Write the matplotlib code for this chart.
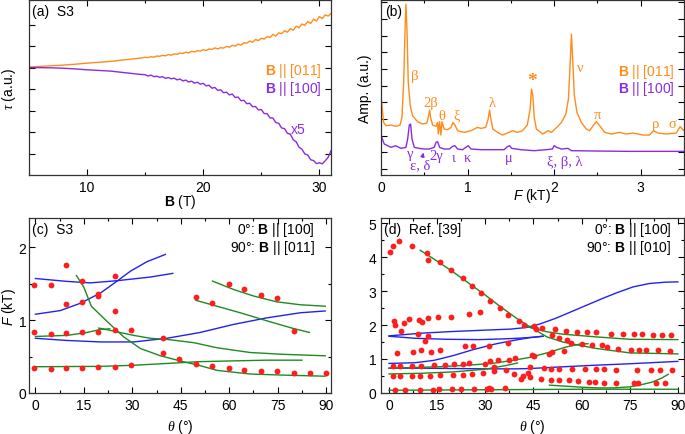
import matplotlib
matplotlib.use('Agg')
import matplotlib.pyplot as plt
from matplotlib.ticker import MultipleLocator

plt.rcParams['font.family'] = ['Liberation Sans', 'DejaVu Sans']
plt.rcParams['font.size'] = 10
plt.rcParams['mathtext.fontset'] = 'custom'
plt.rcParams['mathtext.rm'] = 'Liberation Sans'
plt.rcParams['mathtext.bf'] = 'Liberation Sans:bold'
plt.rcParams['mathtext.it'] = 'Liberation Serif:italic'
plt.rcParams['mathtext.sf'] = 'Liberation Sans:italic'

ORANGE = '#FF8C1A'
PURPLE = '#8A2BE2'
RED = '#FF1E1E'
BLUE = '#2222F0'
GREEN = '#1F8A1F'
SERIF = ['Liberation Serif', 'DejaVu Serif']

# ---------------- (a) torque vs field ----------------
torque_B = [5, 6, 7, 8, 9, 10, 11, 12, 13, 14, 14.5,
            15, 15.25, 15.5, 15.75, 16, 16.25, 16.5, 16.75, 17, 17.25, 17.5, 17.75,
            18, 18.25, 18.5, 18.75, 19, 19.25, 19.5, 19.75, 20, 20.25, 20.5, 20.75,
            21, 21.25, 21.5, 21.75, 22, 22.25, 22.5, 22.75, 23, 23.25, 23.5, 23.75,
            24, 24.25, 24.5, 24.75, 25, 25.25, 25.5, 25.75, 26, 26.25, 26.5, 26.75,
            27, 27.25, 27.5, 27.75, 28, 28.25, 28.5, 28.75, 29, 29.25, 29.5, 29.75,
            30, 30.25, 30.5, 30.75, 31]
torque_011 = [5.03, 5.06, 5.09, 5.12, 5.16, 5.21, 5.25, 5.29, 5.35, 5.41, 5.44,
              5.48, 5.47, 5.51, 5.49, 5.54, 5.53, 5.57, 5.55, 5.61, 5.58, 5.64, 5.62,
              5.68, 5.66, 5.72, 5.69, 5.76, 5.73, 5.79, 5.77, 5.84, 5.80, 5.87, 5.85,
              5.92, 5.87, 5.93, 5.91, 5.99, 5.95, 6.04, 6.00, 6.10, 6.05, 6.16, 6.14,
              6.24, 6.18, 6.31, 6.26, 6.37, 6.33, 6.45, 6.40, 6.55, 6.47, 6.62, 6.58,
              6.72, 6.65, 6.82, 6.74, 6.93, 6.86, 7.03, 6.97, 7.15, 7.06, 7.26, 7.17,
              7.38, 7.28, 7.46, 7.40, 7.52]
torque_100 = [5.00, 5.00, 4.99, 4.97, 4.94, 4.90, 4.87, 4.84, 4.78, 4.72, 4.69,
              4.67, 4.61, 4.65, 4.58, 4.60, 4.55, 4.58, 4.50, 4.54, 4.48, 4.51, 4.43,
              4.47, 4.38, 4.42, 4.33, 4.37, 4.28, 4.32, 4.23, 4.27, 4.15, 4.18, 4.04,
              4.08, 3.94, 3.97, 3.83, 3.86, 3.73, 3.77, 3.61, 3.63, 3.46, 3.48, 3.32,
              3.34, 3.18, 3.19, 3.03, 3.05, 2.86, 2.86, 2.66, 2.65, 2.44, 2.41, 2.19,
              2.16, 1.94, 1.90, 1.64, 1.55, 1.29, 1.20, 0.98, 0.93, 0.71, 0.67, 0.53,
              0.57, 0.52, 0.66, 0.82, 1.13]

# ---------------- (b) FFT spectra ----------------
fft_F_011 = [0.0, 0.03, 0.058, 0.115, 0.17, 0.22, 0.242, 0.262, 0.277, 0.288, 0.30, 0.315,
             0.338, 0.365, 0.423, 0.48, 0.53, 0.55, 0.562, 0.573, 0.596, 0.635, 0.654,
             0.662, 0.677, 0.692, 0.704, 0.73, 0.77, 0.81, 0.83, 0.854, 0.885, 0.96,
             1.04, 1.115, 1.154, 1.21, 1.238, 1.254, 1.27, 1.292, 1.346, 1.404, 1.46,
             1.52, 1.577, 1.635, 1.69, 1.723, 1.738, 1.754, 1.77, 1.795, 1.87, 1.93,
             1.97, 2.03, 2.085, 2.135, 2.165, 2.184, 2.2, 2.214, 2.234, 2.264, 2.314,
             2.372, 2.41, 2.45, 2.488, 2.526, 2.584, 2.66, 2.756, 2.834, 2.91, 3.026,
             3.1, 3.148, 3.198, 3.294, 3.41, 3.456, 3.5]
fft_A_011 = [4.4, 2.8, 2.6, 2.64, 2.56, 2.64, 3.1, 5.2, 8.2, 9.9, 8.4, 5.2,
             3.8, 3.2, 2.84, 2.7, 2.76, 3.2, 3.54, 3.1, 2.64, 2.56, 2.8,
             2.1, 2.84, 2.04, 2.84, 2.4, 2.36, 2.5, 2.8, 2.64, 2.3, 2.2,
             2.3, 2.5, 2.44, 2.5, 3.0, 3.54, 3.0, 2.4, 2.2, 2.04, 2.16,
             2.3, 2.2, 2.3, 2.64, 3.6, 4.8, 4.4, 3.1, 2.4, 2.1, 2.3,
             2.2, 2.5, 2.8, 3.3, 4.2, 6.2, 8.1, 6.6, 4.4, 3.4, 2.8,
             2.4, 2.3, 2.6, 2.84, 2.6, 2.2, 2.1, 2.2, 2.1, 2.16, 2.04,
             2.04, 2.3, 2.16, 2.1, 2.16, 2.54, 2.3]
fft_F_100 = [0.0, 0.038, 0.077, 0.115, 0.17, 0.23, 0.288, 0.308, 0.327, 0.342, 0.358,
             0.385, 0.442, 0.5, 0.558, 0.615, 0.635, 0.654, 0.677, 0.73, 0.79, 0.827,
             0.854, 0.885, 0.942, 0.98, 1.008, 1.04, 1.154, 1.308, 1.423, 1.46, 1.485,
             1.51, 1.615, 1.77, 1.91, 1.98, 2.0, 2.03, 2.085, 2.16, 2.2, 2.49, 2.87, 3.5]
fft_A_100 = [2.0, 1.5, 1.4, 1.3, 1.4, 1.24, 1.3, 1.8, 2.64, 2.7, 1.8,
             1.3, 1.24, 1.2, 1.2, 1.3, 1.6, 1.64, 1.3, 1.2, 1.2, 1.36,
             1.4, 1.2, 1.16, 1.3, 1.4, 1.2, 1.16, 1.16, 1.16, 1.34, 1.4,
             1.24, 1.16, 1.1, 1.16, 1.2, 1.4, 1.3, 1.2, 1.24, 1.1, 1.08, 1.06, 1.06]

peak_labels_011 = [('β', 0.385, 5.64), ('2β', 0.57, 4.0), ('θ', 0.704, 3.24), ('ξ', 0.873, 3.24),
                   ('λ', 1.28, 4.0), ('ν', 2.30, 6.1), ('π', 2.5, 3.3), ('ρ', 3.17, 2.76),
                   ('σ', 3.37, 2.76)]
peak_labels_100 = [('γ', 0.338, 0.95), ('ε, δ', 0.45, 0.28), ('2γ', 0.64, 0.8), ('ι', 0.835, 0.72),
                   ('κ', 1.0, 0.72), ('μ', 1.48, 0.72), ('ξ, β, λ', 2.12, 0.45)]

# ---------------- (c) angular dependence, S3 ----------------
c_dots_th = [-0.5, 4.9, 9.6, 9.6, 14.4, 14.4, 19.4, 19.4, 24.5, 24.5,
             -0.5, 4.9, 9.6, 14.4, 19.4, 24.5, 29.6, 39.5, 39.5, 44.6, 49.7, 54.6, 59.8,
             64.7, 69.8, 74.7, 79.9, 85.1, 89.8,
             -0.5, 4.9, 9.6, 14.4, 19.4, 24.5, 29.6,
             49.7, 54.6, 59.8, 64.7, 69.8, 74.7, 79.9]
c_dots_F = [1.48, 1.48, 1.76, 1.22, 1.54, 1.25, 1.36, 1.33, 1.61, 1.125,
            0.84, 0.81, 0.82, 0.83, 0.84, 0.87, 0.87, 0.76, 0.555, 0.465, 0.40, 0.365, 0.34,
            0.31, 0.305, 0.30, 0.28, 0.27, 0.28,
            0.34, 0.33, 0.34, 0.34, 0.35, 0.35, 0.39,
            1.32, 1.24, 1.49, 1.42, 1.35, 1.30, 0.85]

c_blue = [
    ([0, 9.8, 17, 25.3, 35.6, 42.5], [1.57, 1.53, 1.51, 1.54, 1.59, 1.64]),
    ([0, 7.7, 13.9, 20.1, 25.3, 29.4, 34.5, 40.2], [1.08, 1.13, 1.23, 1.37, 1.535, 1.67, 1.80, 1.90]),
    ([0, 9.8, 20.1, 30.4, 40.7, 51, 61.3, 71.6, 82, 89.7],
     [0.75, 0.72, 0.70, 0.70, 0.75, 0.83, 0.94, 1.03, 1.10, 1.125]),
]
c_green = [
    ([54.8, 61.3, 67.5, 74.7, 82, 89.7], [1.535, 1.42, 1.33, 1.25, 1.21, 1.19]),
    ([49.7, 56.2, 63.4, 71.6, 79.4, 84.8], [1.27, 1.19, 1.10, 0.99, 0.89, 0.83]),
    ([0, 9.8, 16, 20.5, 22, 25, 30.4, 35.6, 40.7, 49, 56.2, 66.5, 76.8, 89.7],
     [0.775, 0.79, 0.83, 0.875, 0.87, 0.84, 0.79, 0.75, 0.735, 0.69, 0.62, 0.555, 0.53, 0.51]),
    ([19.6, 21.5, 23], [0.89, 0.875, 0.88]),
    ([12.7, 15, 17.3, 22.2, 27.3, 32.5, 38.7, 44.8, 51, 56.2, 66.5, 76.8, 89.7],
     [1.61, 1.45, 1.19, 0.98, 0.77, 0.61, 0.51, 0.44, 0.375, 0.31, 0.26, 0.245, 0.23]),
    ([0, 20.1, 30.4, 40.7, 51, 61.3, 71.6, 82.5], [0.36, 0.365, 0.38, 0.405, 0.43, 0.44, 0.45, 0.45]),
]

# ---------------- (d) angular dependence, Ref. [39] ----------------
d_dots_th = [0.4, 1.35, 3.2, 7.05, 11.8, 12.3, 16.0, 19.3, 23.1, 25.7, 28.6, 31.4, 34.5, 37.2,
             40.5, 42.1, 45.2, 45.7, 47.7,
             51.8, 55.1, 58.6, 61.7, 64.6, 69.3, 73.0, 76.2, 78.9, 82.4, 85.1, 87.9,
             50.8, 53.0, 55.5, 56.7, 60.1, 63.3, 66.4, 67.9, 71.5, 75.5, 77.8, 80.2, 83.8, 87.6,
             1.7, 2.0, 3.7, 4.6, 6.1, 9.4, 10.3, 12.3, 15.4, 19.3, 24.8, 28.3,
             8.9, 12.3, 11.2, 2.5, 7.4, 10.0, 13.1, 15.9, 23.6, 26.2, 31.0, 37.2,
             44.7, 45.1, 49.9, 50.8, 54.5,
             1.1, 3.4, 7.1, 10.0, 14.1, 17.5, 20.1, 22.9, 25.0, 30.0, 31.5, 32.6, 34.0, 37.4, 39.2,
             43.9, 48.2, 50.6, 53.0, 57.0, 61.0, 64.6, 66.9, 70.8, 77.3, 81.7, 84.3, 88.2,
             1.1, 3.4, 7.1, 9.7, 12.9, 15.9, 19.8, 22.9, 26.0, 29.3, 32.8, 36.4, 38.8, 41.1, 41.9, 43.4,
             43.9, 47.5, 50.6, 53.0, 56.1, 58.9, 62.3, 64.3, 66.9, 70.6, 76.3, 77.6, 83.3, 85.9,
             2.0, 5.1, 9.7, 13.6, 15.7, 19.5, 22.4, 26.6, 30.5, 31.2, 31.7, 36.1]
d_dots_F = [4.16, 4.32, 4.48, 4.32, 4.11, 3.91, 3.86, 3.63, 3.39, 3.15, 2.94, 2.71, 2.51, 2.30,
            2.11, 1.99, 1.97, 1.87, 1.92,
            1.87, 1.82, 1.80, 1.79, 1.78, 1.75, 1.74, 1.73, 1.73, 1.72, 1.70, 1.71,
            1.72, 1.62, 1.57, 1.48, 1.45, 1.40, 1.40, 1.36, 1.29, 1.26, 1.26, 1.26, 1.26, 1.23,
            2.12, 2.01, 1.82, 2.06, 2.17, 2.16, 2.08, 2.21, 2.23, 2.24, 2.33, 2.39,
            1.75, 1.68, 1.53, 1.18, 1.21, 1.26, 1.21, 1.26, 1.39, 1.39, 1.38, 1.47,
            1.11, 1.08, 1.16, 1.21, 1.25,
            0.80, 0.80, 0.80, 0.80, 0.83, 0.83, 0.85, 0.86, 0.88, 0.86, 0.94, 0.77, 0.96, 0.98, 1.03,
            0.77, 0.74, 0.72, 0.72, 0.70, 0.70, 0.70, 0.70, 0.68, 0.67, 0.67, 0.67, 0.68,
            0.49, 0.49, 0.49, 0.49, 0.49, 0.52, 0.52, 0.54, 0.57, 0.60, 0.64, 0.67, 0.57, 0.40, 0.51, 0.60,
            0.47, 0.42, 0.39, 0.37, 0.37, 0.34, 0.32, 0.32, 0.30, 0.30, 0.29, 0.29, 0.30, 0.29,
            0.10, 0.10, 0.10, 0.10, 0.11, 0.11, 0.11, 0.11, 0.11, 0.14, 0.11, 0.15]

d_blue = [
    ([0, 10, 20, 30, 38, 43, 47, 52, 57, 62, 67, 71, 76, 81, 86, 90],
     [1.68, 1.76, 1.81, 1.85, 1.88, 1.93, 2.03, 2.2, 2.4, 2.6, 2.8, 2.95, 3.12, 3.22, 3.26, 3.27]),
    ([0, 8, 18, 28, 35, 40, 45, 48], [1.67, 1.61, 1.58, 1.57, 1.59, 1.61, 1.64, 1.67]),
    ([0, 8, 14, 20, 26, 33, 39, 44, 48], [0.87, 0.89, 0.96, 1.1, 1.27, 1.44, 1.55, 1.63, 1.67]),
    ([0, 10, 20, 30, 40, 44, 54, 65, 75, 90], [0.73, 0.73, 0.72, 0.71, 0.71, 0.72, 0.77, 0.82, 0.86, 0.93]),
]
d_green = [
    ([9.7, 15, 20, 25, 30, 35, 40, 43, 46, 49.2, 54.2, 59.4, 64.6, 75, 90],
     [4.2, 3.88, 3.56, 3.22, 2.88, 2.52, 2.18, 2.0, 1.83, 1.65, 1.50, 1.40, 1.31, 1.18, 1.15]),
    ([43, 49.2, 54.2, 64.6, 75, 90], [1.95, 1.80, 1.73, 1.65, 1.58, 1.57]),
    ([0, 15, 25, 32, 38, 44, 50, 55, 59.5, 62], [0.73, 0.77, 0.82, 0.87, 0.95, 1.05, 1.2, 1.35, 1.44, 1.45]),
    ([0, 10, 20, 30, 36, 40], [0.56, 0.58, 0.62, 0.7, 0.8, 0.88]),
    ([50, 55, 60, 65, 70, 75, 78, 82, 85, 87], [0.23, 0.2, 0.17, 0.15, 0.15, 0.18, 0.23, 0.32, 0.44, 0.55]),
    ([0, 20, 40, 60, 90], [0.08, 0.09, 0.1, 0.11, 0.11]),
]


def style(ax):
    ax.tick_params(which='both', direction='in', top=True, right=True, labelsize=10)
    ax.tick_params(which='major', length=4, width=0.8)
    ax.tick_params(which='minor', length=2.5, width=0.8)
    for s in ax.spines.values():
        s.set_linewidth(0.9)
        s.set_color('#333333')


fig = plt.figure(figsize=(6.85, 4.35), dpi=100)
ax_a = fig.add_axes([0.0423, 0.5954, 0.4409, 0.4023])
ax_b = fig.add_axes([0.5562, 0.5954, 0.4423, 0.4023])
ax_c = fig.add_axes([0.0423, 0.0943, 0.4409, 0.4023])
ax_d = fig.add_axes([0.5562, 0.0943, 0.4423, 0.4023])

# (a)
ax_a.plot(torque_B, torque_011, color=ORANGE, lw=1.0)
ax_a.plot(torque_B, torque_100, color=PURPLE, lw=1.0)
ax_a.set_xlim(5, 31)
ax_a.set_ylim(0, 8.15)
ax_a.set_xticks([10, 20, 30])
ax_a.xaxis.set_minor_locator(MultipleLocator(5))
ax_a.set_yticks(range(1, 8))
style(ax_a)
ax_a.tick_params(labelleft=False)
ax_a.set_xlabel(r'$\mathbf{B}$ (T)')
ax_a.xaxis.set_label_coords(0.5, -0.095)
ax_a.set_ylabel(r'$\tau$ (a.u.)')
ax_a.yaxis.set_label_coords(-0.035, 0.5)
ax_a.text(0.01, 0.935, '(a)  S3', transform=ax_a.transAxes, va='center')
ax_a.text(0.969, 0.60, r'$\mathbf{B}$ || [011]', transform=ax_a.transAxes, ha='right', va='center', color=ORANGE)
ax_a.text(0.969, 0.495, r'$\mathbf{B}$ || [100]', transform=ax_a.transAxes, ha='right', va='center', color=PURPLE)
ax_a.text(0.892, 0.263, 'x5', transform=ax_a.transAxes, ha='center', va='center', color=PURPLE)

# (b)
ax_b.plot(fft_F_011, fft_A_011, color=ORANGE, lw=1.0)
ax_b.plot(fft_F_100, fft_A_100, color=PURPLE, lw=1.0)
ax_b.set_xlim(0, 3.5)
ax_b.set_ylim(-0.36, 10.15)
ax_b.set_xticks([0, 1, 2, 3])
ax_b.xaxis.set_minor_locator(MultipleLocator(0.5))
ax_b.set_yticks(range(0, 11))
style(ax_b)
ax_b.tick_params(labelleft=False)
ax_b.set_xlabel(r'$\mathsf{F}$ (kT)')
ax_b.xaxis.set_label_coords(0.5, -0.063)
ax_b.set_ylabel('Amp. (a.u.)')
ax_b.yaxis.set_label_coords(-0.03, 0.5)
ax_b.text(0.012, 0.94, '(b)', transform=ax_b.transAxes, va='center')
for lab, x, y in peak_labels_011:
    ax_b.text(x, y, lab, color=ORANGE, ha='center', va='center', family=SERIF, fontsize=10.5)
ax_b.text(1.742, 5.3, '*', color=ORANGE, ha='center', va='center', family=SERIF, fontsize=14, fontweight='bold')
for lab, x, y in peak_labels_100:
    ax_b.text(x, y, lab, color=PURPLE, ha='center', va='center', family=SERIF, fontsize=10.5)
ax_b.annotate('', xy=(0.497, 1.15), xytext=(0.472, 0.55),
              arrowprops=dict(arrowstyle='-|>', color=PURPLE, lw=0.8, mutation_scale=6))
ax_b.text(0.970, 0.596, r'$\mathbf{B}$ || [011]', transform=ax_b.transAxes, ha='right', va='center', color=ORANGE)
ax_b.text(0.970, 0.495, r'$\mathbf{B}$ || [100]', transform=ax_b.transAxes, ha='right', va='center', color=PURPLE)

# (c)
for xs, ys in c_blue:
    ax_c.plot(xs, ys, color=BLUE, lw=1.0)
for xs, ys in c_green:
    ax_c.plot(xs, ys, color=GREEN, lw=1.0)
ax_c.plot(c_dots_th, c_dots_F, 'o', color=RED, ms=4.2, mec='none')
ax_c.set_xlim(-2, 91.5)
ax_c.set_ylim(0, 2.4)
ax_c.set_xticks(range(0, 91, 15))
ax_c.xaxis.set_minor_locator(MultipleLocator(7.5))
ax_c.set_yticks([0, 1, 2])
ax_c.yaxis.set_minor_locator(MultipleLocator(0.5))
style(ax_c)
ax_c.tick_params(axis='y', pad=2)
ax_c.set_xlabel(r'$\theta$ (°)')
ax_c.xaxis.set_label_coords(0.5, -0.135)
ax_c.set_ylabel(r'$\mathsf{F}$ (kT)')
ax_c.yaxis.set_label_coords(-0.036, 0.5)
ax_c.text(0.01, 0.937, '(c)  S3', transform=ax_c.transAxes, va='center')
ax_c.text(0.947, 0.937, r'0°: $\mathbf{B}$ || [100]', transform=ax_c.transAxes, ha='right', va='center')
ax_c.text(0.947, 0.836, r'90°: $\mathbf{B}$ || [011]', transform=ax_c.transAxes, ha='right', va='center')

# (d)
for xs, ys in d_blue:
    ax_d.plot(xs, ys, color=BLUE, lw=1.0)
for xs, ys in d_green:
    ax_d.plot(xs, ys, color=GREEN, lw=1.0)
ax_d.plot(d_dots_th, d_dots_F, 'o', color=RED, ms=4.2, mec='none')
ax_d.set_xlim(-2.5, 91.9)
ax_d.set_ylim(0, 5.15)
ax_d.set_xticks(range(0, 91, 15))
ax_d.xaxis.set_minor_locator(MultipleLocator(7.5))
ax_d.set_yticks(range(0, 6))
ax_d.yaxis.set_minor_locator(MultipleLocator(0.5))
style(ax_d)
ax_d.set_xlabel(r'$\theta$ (°)')
ax_d.xaxis.set_label_coords(0.5, -0.135)
ax_d.text(0.01, 0.937, '(d)  Ref. [39]', transform=ax_d.transAxes, va='center')
ax_d.text(0.96, 0.937, r'0°: $\mathbf{B}$ || [100]', transform=ax_d.transAxes, ha='right', va='center')
ax_d.text(0.96, 0.836, r'90°: $\mathbf{B}$ || [010]', transform=ax_d.transAxes, ha='right', va='center')

fig.savefig('out.png', dpi=100)
